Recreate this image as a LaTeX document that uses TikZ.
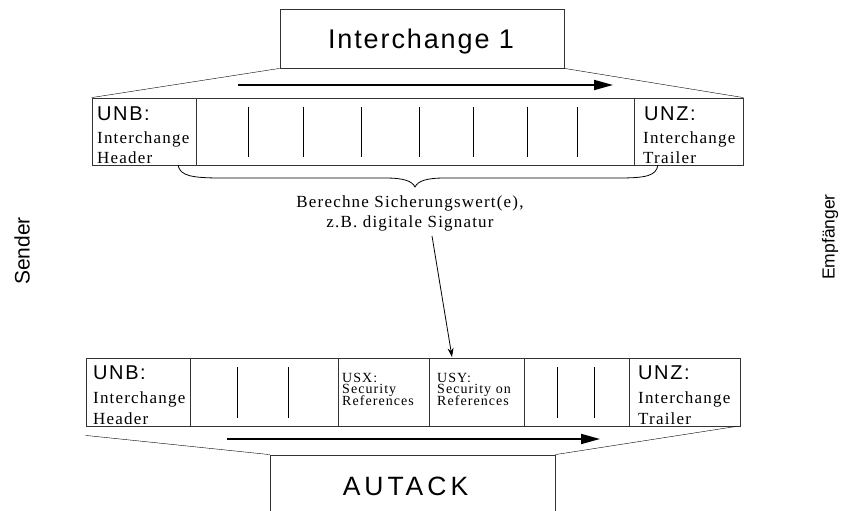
\documentclass[tikz,border=0pt]{standalone}
\usepackage{fontspec}
\setmainfont{Liberation Serif}
\setsansfont{Liberation Sans}
\usetikzlibrary{arrows.meta,calc}

\begin{document}
\begin{tikzpicture}[x=1pt,y=-1pt,
  frame/.style={draw=black!80, line width=0.8pt, inner sep=0pt},
  divider/.style={draw=black!80, line width=0.8pt},
  tick/.style={draw=black, line width=0.8pt},
  flow/.style={line width=1.8pt, -{Triangle[length=19pt,width=10pt]}},
  titletext/.style={anchor=base, inner sep=0pt, font=\sffamily\fontsize{27}{27}\selectfont\addfontfeatures{LetterSpace=7}},
  segtag/.style={anchor=base west, inner sep=0pt, font=\sffamily\fontsize{20}{20}\selectfont\addfontfeatures{LetterSpace=8}},
  segtext/.style={anchor=base west, inner sep=0pt, font=\rmfamily\fontsize{17}{17}\selectfont\addfontfeatures{LetterSpace=7}},
  smalltext/.style={anchor=base west, inner sep=0pt, font=\rmfamily\fontsize{14}{14}\selectfont\addfontfeatures{LetterSpace=7.5}},
  notetext/.style={anchor=base, inner sep=0pt, font=\rmfamily\fontsize{17}{17}\selectfont\addfontfeatures{LetterSpace=7}},
  side/.style={inner sep=0pt, rotate=90, font=\sffamily\fontsize{18}{18}\selectfont}
]
\clip (0,0) rectangle (844,511);

% ---------- upper interchange ----------
\node[frame, minimum width=284pt, minimum height=59pt] (ic) at (422,38.5) {};
\node[titletext] (ictitle) at (421,49) {Interchange 1};

\node[frame, minimum width=651pt, minimum height=67pt] (trow) at (417.5,131.5) {};
\draw (ic.south west) -- (trow.north west);
\draw (ic.south east) -- (trow.north east);

\coordinate (tflowA) at (238,85);
\coordinate (tflowB) at (613,85);
\draw[flow] (tflowA) -- (tflowB);

% segment boundaries and inner segments
\foreach \x in {196,634} \draw[divider] (\x,98) -- (\x,165);
\foreach \x in {248,303,361,419,473,527,577} \draw[tick] (\x,107) -- (\x,157);

\node[segtag]  (tunb)  at (97,121) {UNB:};
\node[segtext] (tunbA) at (97,143) {Interchange};
\node[segtext] (tunbB) at (97,163) {Header};
\node[segtag]  (tunz)  at (644,121) {UNZ:};
\node[segtext] (tunzA) at (643,143) {Interchange};
\node[segtext] (tunzB) at (643,163) {Trailer};

% brace under the signed range
\draw[line width=0.8pt] (178,165) .. controls (180,176) and (192,178) .. (222,178)
  -- (385,178) .. controls (404,178) and (412,181) .. (415,187)
  .. controls (418,181) and (426,178) .. (445,178)
  -- (618,178) .. controls (646,178) and (656,176) .. (658,165);

\node[notetext] (noteA) at (410,207) {Berechne Sicherungswert(e),};
\node[notetext] (noteB) at (410,227) {z.B. digitale Signatur};

% ---------- lower interchange (AUTACK) ----------
\node[frame, minimum width=654pt, minimum height=68pt] (brow) at (413,392) {};
\foreach \x in {190,338,429,524,629} \draw[divider] (\x,358) -- (\x,426);
\foreach \x in {237,288,557,594} \draw[tick] (\x,367) -- (\x,418);

\coordinate (sigA) at (432,236);
\coordinate (sigB) at (452,357);
\draw[line width=0.8pt, -{Stealth[length=9pt,width=6pt]}] (sigA) -- (sigB);

\node[segtag]  (bunb)  at (93,379) {UNB:};
\node[segtext] (bunbA) at (93,403) {Interchange};
\node[segtext] (bunbB) at (93,424) {Header};

\node[smalltext] (usx)  at (342,382) {USX:};
\node[smalltext] (usxA) at (342,393.5) {Security};
\node[smalltext] (usxB) at (342,405) {References};

\node[smalltext] (usy)  at (437,382) {USY:};
\node[smalltext] (usyA) at (437,393.5) {Security on};
\node[smalltext] (usyB) at (437,405) {References};

\node[segtag]  (bunz)  at (638,379) {UNZ:};
\node[segtext] (bunzA) at (638,403) {Interchange};
\node[segtext] (bunzB) at (638,424) {Trailer};

\coordinate (bflowA) at (227,439);
\coordinate (bflowB) at (600,439);
\draw[flow] (bflowA) -- (bflowB);

\node[frame, minimum width=285pt, minimum height=80pt] (aut) at (412.5,495) {};
\node[titletext, font=\sffamily\fontsize{26.5}{26.5}\selectfont\addfontfeatures{LetterSpace=15}] (auttitle) at (405.5,495) {AUTACK};
\draw (aut.north west) -- ($(brow.south west)+(0,9)$);
\draw (aut.north east) -- ($(brow.south east)+(-4,0)$);

% ---------- parties ----------
\node[side, font=\sffamily\fontsize{21}{21}\selectfont] (sender) at (22,251) {Sender};
\node[side, font=\sffamily\fontsize{17.5}{17.5}\selectfont] (receiver) at (830,237) {Empfänger};
\end{tikzpicture}
\end{document}
